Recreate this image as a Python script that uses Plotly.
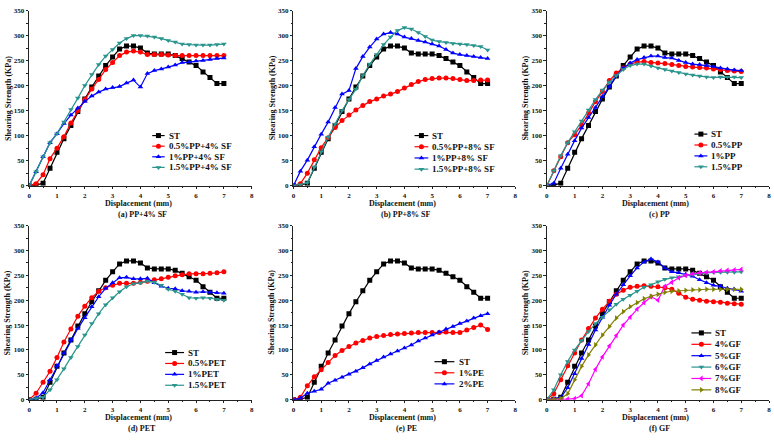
import plotly.graph_objects as go

# ---------------- data ----------------
X = [0, 0.25, 0.5, 0.75, 1.0, 1.25, 1.5, 1.75, 2.0, 2.25, 2.5, 2.75, 3.0, 3.25, 3.5,
     3.75, 4.0, 4.25, 4.5, 4.75, 5.0, 5.25, 5.5, 5.75, 6.0, 6.25, 6.5, 6.75, 7.0]

ST = [0, 1, 5, 35, 67, 94, 120, 148, 173, 197, 219, 240, 257, 273, 279,
      279, 275, 265, 263, 263, 263, 260, 254, 247, 240, 227, 216, 204, 204]

# (a) PP+4% SF
PP05_SF4 = [0, 4, 22, 54, 75, 98, 125, 150, 172, 193, 212, 232, 246, 260, 267,
            269, 267, 262, 262, 262, 261, 260, 260, 260, 260, 260, 260, 260, 260]
PP1_SF4 = [0, 28, 58, 86, 104, 124, 141, 155, 168, 179, 187, 193, 196, 198, 205,
           211, 197, 224, 230, 233, 237, 241, 246, 247, 249, 250, 252, 254, 255]
PP15_SF4 = [0, 28, 58, 86, 104, 127, 152, 175, 200, 222, 242, 259, 272, 285, 294,
            300, 300, 299, 297, 294, 290, 287, 283, 282, 281, 281, 281, 282, 283]

# (b) PP+8% SF
PP05_SF8 = [0, 4, 25, 52, 76, 96, 116, 130, 141, 151, 160, 168, 173, 179, 183,
            188, 195, 202, 208, 212, 214, 215, 215, 214, 212, 210, 210, 211, 211]
PP1_SF8 = [0, 29, 51, 78, 103, 127, 156, 183, 190, 234, 258, 277, 293, 303, 306,
           303, 297, 294, 290, 287, 283, 279, 272, 265, 262, 260, 258, 256, 254]
PP15_SF8 = [0, 2, 6, 37, 68, 97, 123, 150, 172, 193, 220, 243, 262, 282, 297,
            310, 316, 313, 306, 298, 291, 288, 286, 284, 283, 282, 280, 278, 271]

# (c) PP
PP05 = [0, 30, 58, 86, 102, 121, 145, 168, 188, 210, 225, 235, 243, 247, 248,
        246, 245, 244, 242, 240, 238, 237, 236, 235, 233, 232, 230, 229, 228]
PP1 = [0, 5, 35, 63, 90, 115, 136, 156, 178, 198, 219, 235, 245, 252, 256,
       259, 259, 256, 255, 250, 246, 243, 242, 240, 238, 235, 233, 231, 230]
PP15 = [0, 30, 60, 86, 108, 129, 151, 172, 191, 207, 220, 232, 240, 243, 243,
        239, 235, 232, 229, 226, 223, 221, 219, 217, 216, 217, 217, 217, 216]

# (d) PET
PET05 = [0, 13, 35, 57, 85, 116, 142, 168, 188, 205, 218, 225, 230, 234, 234,
         234, 236, 238, 241, 243, 246, 249, 251, 253, 253, 253, 254, 255, 257]
PET1 = [0, 3, 14, 40, 68, 94, 120, 143, 165, 187, 207, 224, 235, 245, 246,
        243, 243, 244, 235, 228, 224, 223, 219, 218, 216, 217, 216, 215, 214]
PET15 = [0, 2, 5, 20, 40, 62, 85, 107, 130, 153, 173, 191, 205, 217, 227,
         233, 235, 238, 236, 230, 222, 218, 212, 205, 204, 205, 204, 202, 200]

# (e) PE
PE1 = [0, 5, 28, 46, 60, 75, 89, 99, 107, 114, 119, 124, 127, 129, 131,
       132, 133, 134, 135, 135, 135, 135, 136, 135, 135, 140, 145, 150, 141]
PE2 = [0, 3, 13, 17, 21, 33, 39, 45, 51, 57, 64, 72, 79, 86, 92,
       98, 104, 110, 118, 124, 130, 136, 142, 147, 153, 158, 164, 169, 173]

# (f) GF
GF4 = [0, 12, 40, 68, 94, 120, 143, 164, 182, 198, 212, 220, 226, 228, 229,
       228, 227, 225, 222, 214, 206, 202, 200, 198, 197, 196, 194, 193, 192]
GF5 = [0, 2, 4, 24, 52, 83, 111, 140, 166, 190, 212, 231, 249, 265, 277,
       283, 277, 265, 257, 255, 252, 248, 241, 235, 230, 228, 224, 222, 218]
GF6 = [0, 20, 50, 77, 100, 119, 137, 153, 166, 181, 192, 202, 210, 218, 226,
       231, 237, 242, 245, 247, 250, 252, 254, 255, 256, 256, 256, 256, 257]
GF7 = [0, 0, 0, 1, 2, 8, 32, 61, 86, 108, 129, 150, 166, 182, 195,
       207, 200, 228, 236, 245, 250, 253, 255, 256, 257, 259, 260, 261, 262]
GF8 = [0, 1, 2, 12, 40, 67, 90, 110, 130, 147, 164, 177, 187, 195, 203,
       208, 212, 216, 218, 219, 220, 221, 221, 222, 222, 222, 222, 222, 222]

X_RANGE = [0, 8]
Y_RANGE = [0, 350]
X_DTICK, Y_DTICK = 1, 50

CAPTIONS = ["(a) PP+4% SF", "(b) PP+8% SF", "(c) PP", "(d) PET", "(e) PE", "(f) GF"]
X_TITLE = "Displacement (mm)"
Y_TITLE = "Shearing Strength (KPa)"

# ---------------- styles ----------------
BLACK, RED, BLUE, TEAL, MAG, OLIVE = "#000000", "#FF0000", "#0000FF", "#2A948E", "#FF00FF", "#808000"
STY = {
    "k": (BLACK, "square"),
    "r": (RED, "circle"),
    "b": (BLUE, "triangle-up"),
    "t": (TEAL, "triangle-down"),
    "m": (MAG, "triangle-left"),
    "o": (OLIVE, "triangle-right"),
}

panels = [
    [("ST", ST, "k"), ("0.5%PP+4% SF", PP05_SF4, "r"), ("1%PP+4% SF", PP1_SF4, "b"), ("1.5%PP+4% SF", PP15_SF4, "t")],
    [("ST", ST, "k"), ("0.5%PP+8% SF", PP05_SF8, "r"), ("1%PP+8% SF", PP1_SF8, "b"), ("1.5%PP+8% SF", PP15_SF8, "t")],
    [("ST", ST, "k"), ("0.5%PP", PP05, "r"), ("1%PP", PP1, "b"), ("1.5%PP", PP15, "t")],
    [("ST", ST, "k"), ("0.5%PET", PET05, "r"), ("1%PET", PET1, "b"), ("1.5%PET", PET15, "t")],
    [("ST", ST, "k"), ("1%PE", PE1, "r"), ("2%PE", PE2, "b")],
    [("ST", ST, "k"), ("4%GF", GF4, "r"), ("5%GF", GF5, "b"), ("6%GF", GF6, "t"), ("7%GF", GF7, "m"), ("8%GF", GF8, "o")],
]

W, H = 774, 441
# pixel frames: (x_left, x_right, y_bottom, y_top)
frames = [
    (27.3, 251, 185, 6.7), (293, 516, 185, 6.7), (547.7, 771, 185, 6.7),
    (27.3, 251, 403, 225.7), (293, 516, 403, 225.7), (547.7, 771, 403, 225.7),
]
# legend placement: (line x0, line x1, text x, first row y, row step)
legpos = [
    (151, 163.5, 165.5, 134.0, 10.8),
    (414.7, 428.5, 430.5, 134.0, 11.4),
    (696, 709, 711, 132.5, 11.1),
    (164, 183, 185, 355.0, 11.1),
    (434.7, 454.7, 457, 364.3, 11.3),
    (693, 713, 715, 335.0, 11.6),
]

FONT = "Liberation Serif"
fig = go.Figure()
layout = dict(
    width=W, height=H, margin=dict(l=0, r=0, t=0, b=0),
    paper_bgcolor="white", plot_bgcolor="rgba(0,0,0,0)", showlegend=False,
    font=dict(family=FONT, color="black"),
)
annotations = []


def axis(domain, rng, dtick, anchor):
    return dict(
        domain=domain, range=rng, anchor=anchor,
        tickmode="linear", tick0=0, dtick=dtick,
        showgrid=False, zeroline=False, showline=True, linecolor="#222", linewidth=1,
        ticks="outside", ticklen=2.5, tickwidth=1, tickcolor="#222",
        tickfont=dict(family=FONT, size=7, color="#111", weight="bold"),
        minor=dict(ticks="outside", ticklen=1.8, tickwidth=1, tickcolor="#222",
                   tick0=0, dtick=dtick / 2, showgrid=False),
    )


for i, (series, fr) in enumerate(zip(panels, frames)):
    n = i + 1
    xl, xr, yb, yt = fr
    xa = "xaxis" if n == 1 else f"xaxis{n}"
    ya = "yaxis" if n == 1 else f"yaxis{n}"
    xref = "x" if n == 1 else f"x{n}"
    yref = "y" if n == 1 else f"y{n}"

    layout[xa] = axis([xl / W, xr / W], X_RANGE, X_DTICK, yref)
    layout[ya] = axis([1 - yb / H, 1 - yt / H], Y_RANGE, Y_DTICK, xref)

    for name, ys, sk in series:
        col, sym = STY[sk]
        fig.add_trace(go.Scatter(
            x=X, y=ys, mode="lines+markers", name=name, xaxis=xref, yaxis=yref,
            line=dict(color=col, width=1.2),
            marker=dict(color=col, symbol=sym, size=5, line=dict(width=0)),
        ))

    xc = (xl + xr) / 2
    row = 0 if i < 3 else 1
    annotations.append(dict(text=f"<b>{X_TITLE}</b>", xref="paper", yref="paper",
                            x=(xc - 2) / W, y=1 - (203.0 + row * 218.4) / H,
                            xanchor="center", yanchor="middle", showarrow=False,
                            font=dict(family=FONT, size=8, color="#111")))
    annotations.append(dict(text=f"<b>{CAPTIONS[i]}</b>", xref="paper", yref="paper",
                            x=(xc + 2) / W, y=1 - (214.3 + row * 217.6) / H,
                            xanchor="center", yanchor="middle", showarrow=False,
                            font=dict(family=FONT, size=8, color="#111")))
    annotations.append(dict(text=f"<b>{Y_TITLE}</b>", xref="paper", yref="paper",
                            x=(xl - 21.5) / W, y=1 - ((yb + yt) / 2) / H, textangle=-90,
                            xanchor="center", yanchor="middle", showarrow=False,
                            font=dict(family=FONT, size=8, color="#111")))

    lx0, lx1, tx, y0, dy = legpos[i]
    for k, (name, ys, sk) in enumerate(series):
        col, sym = STY[sk]
        yy = y0 + k * dy
        fig.add_trace(go.Scatter(
            x=[lx0, lx1], y=[yy, yy], mode="lines", xaxis="x7", yaxis="y7",
            line=dict(color=col, width=1.2), hoverinfo="skip"))
        fig.add_trace(go.Scatter(
            x=[(lx0 + lx1) / 2], y=[yy], mode="markers", xaxis="x7", yaxis="y7",
            marker=dict(color=col, symbol=sym, size=5, line=dict(width=0)), hoverinfo="skip"))
        annotations.append(dict(text=f"<b>{name}</b>", xref="paper", yref="paper",
                                x=tx / W, y=1 - yy / H, xanchor="left", yanchor="middle",
                                showarrow=False, font=dict(family=FONT, size=9, color="#111")))

layout["xaxis7"] = dict(domain=[0, 1], range=[0, W], visible=False, anchor="y7")
layout["yaxis7"] = dict(domain=[0, 1], range=[H, 0], visible=False, anchor="x7")
layout["annotations"] = annotations
fig.update_layout(**layout)

fig.write_html("out.html")
